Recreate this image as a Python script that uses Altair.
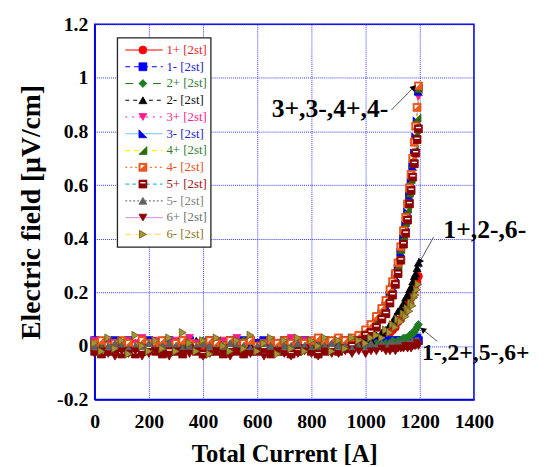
import altair as alt
import pandas as pd

# ---------------- data ----------------
CURRENT = [0, 25, 50, 75, 100, 125, 150, 175, 200, 225,
           250, 275, 300, 325, 350, 375, 400, 425, 450, 475,
           500, 525, 550, 575, 600, 625, 650, 675, 700, 725,
           750, 775, 800, 825, 850, 875, 900, 925, 950,
           975, 1000, 1020, 1040, 1060, 1075, 1090, 1100, 1110, 1120,
           1130, 1140, 1148, 1155, 1162, 1168, 1174, 1180, 1185, 1190, 1195]

SERIES = ["1+", "1-", "2+", "2-", "3+", "3-", "4+", "4-", "5+", "5-", "6+", "6-"]

E_1P = [0.01, 0.00, 0.02, -0.01, 0.01, 0.00, -0.01, 0.02, 0.01, 0.00,
        0.01, -0.01, 0.00, 0.02, 0.01, -0.01, 0.00, 0.01, 0.02, 0.00,
        -0.01, 0.01, 0.00, 0.02, 0.01, 0.00, -0.01, 0.01, 0.02, 0.00,
        0.01, -0.01, 0.00, 0.01, 0.02, 0.00, 0.01, 0.00, 0.01,
        0.01, 0.01, 0.02, 0.02, 0.03, 0.04, 0.05, 0.06, 0.07, 0.09,
        0.10, 0.12, 0.13, 0.15, 0.16, 0.18, 0.19, 0.21, 0.23, 0.24, 0.26]
E_1M = [0.02, 0.01, 0.00, 0.02, 0.01, 0.02, 0.00, 0.01, 0.02, 0.01,
        0.00, 0.02, 0.01, 0.01, 0.02, 0.00, 0.01, 0.02, 0.01, 0.00,
        0.02, 0.01, 0.02, 0.00, 0.01, 0.02, 0.01, 0.00, 0.02, 0.01,
        0.01, 0.02, 0.00, 0.01, 0.02, 0.01, 0.00, 0.02, 0.01,
        0.01, 0.02, 0.01, 0.02, 0.01, 0.02, 0.01, 0.02, 0.02, 0.01,
        0.02, 0.02, 0.01, 0.02, 0.02, 0.02, 0.01, 0.02, 0.02, 0.03, 0.02]
E_2P = [0.00, 0.01, -0.01, 0.01, 0.00, 0.02, 0.01, -0.01, 0.00, 0.01,
        0.02, 0.00, -0.01, 0.01, 0.00, 0.01, 0.02, 0.00, 0.01, -0.01,
        0.00, 0.01, 0.02, 0.01, 0.00, -0.01, 0.01, 0.00, 0.02, 0.01,
        0.00, 0.01, -0.01, 0.00, 0.01, 0.02, 0.00, 0.01, 0.00,
        0.01, 0.00, 0.01, 0.01, 0.00, 0.01, 0.01, 0.02, 0.01, 0.02,
        0.02, 0.03, 0.03, 0.03, 0.04, 0.04, 0.05, 0.05, 0.06, 0.07, 0.08]
E_2M = [0.01, -0.01, 0.00, 0.01, 0.02, 0.00, -0.01, 0.01, 0.00, 0.02,
        0.01, 0.00, 0.01, -0.01, 0.00, 0.02, 0.01, 0.00, -0.01, 0.01,
        0.02, 0.00, 0.01, 0.00, -0.01, 0.01, 0.02, 0.00, 0.01, 0.00,
        -0.01, 0.01, 0.02, 0.00, 0.01, -0.01, 0.00, 0.01, 0.02,
        0.01, 0.02, 0.02, 0.04, 0.05, 0.06, 0.08, 0.09, 0.11, 0.13,
        0.14, 0.16, 0.18, 0.19, 0.21, 0.22, 0.24, 0.26, 0.27, 0.29, 0.31]
E_3P = [0.02, 0.01, 0.02, 0.00, 0.01, 0.02, 0.01, 0.03, 0.01, 0.02,
        0.00, 0.01, 0.02, 0.01, 0.03, 0.01, 0.00, 0.02, 0.01, 0.02,
        0.01, 0.03, 0.01, 0.02, 0.00, 0.01, 0.02, 0.01, 0.02, 0.03,
        0.01, 0.02, 0.00, 0.01, 0.02, 0.01, 0.02, 0.01, 0.02,
        0.02, 0.04, 0.05, 0.08, 0.11, 0.14, 0.18, 0.21, 0.25, 0.28,
        0.34, 0.39, 0.44, 0.49, 0.55, 0.60, 0.66, 0.71, 0.77, 0.83, 0.93]
E_3M = [0.01, 0.00, 0.01, 0.02, 0.00, 0.01, -0.01, 0.01, 0.02, 0.00,
        0.01, 0.02, 0.00, 0.01, -0.01, 0.00, 0.01, 0.02, 0.00, 0.01,
        0.00, 0.02, 0.01, 0.00, 0.01, 0.02, 0.00, -0.01, 0.01, 0.02,
        0.00, 0.01, 0.02, 0.01, 0.00, 0.01, 0.02, 0.00, 0.01,
        0.02, 0.04, 0.06, 0.09, 0.12, 0.15, 0.19, 0.22, 0.26, 0.29,
        0.35, 0.40, 0.45, 0.50, 0.56, 0.61, 0.67, 0.72, 0.78, 0.84, 0.95]
E_4P = [0.00, 0.01, 0.00, -0.01, 0.01, 0.02, 0.00, 0.01, -0.01, 0.00,
        0.01, 0.00, 0.02, 0.01, 0.00, -0.01, 0.01, 0.00, 0.02, 0.01,
        -0.01, 0.00, 0.01, 0.02, 0.00, 0.01, 0.00, 0.01, -0.01, 0.00,
        0.02, 0.01, 0.00, 0.01, 0.00, 0.02, 0.01, 0.00, 0.01,
        0.03, 0.05, 0.07, 0.10, 0.13, 0.16, 0.20, 0.23, 0.27, 0.30,
        0.36, 0.41, 0.46, 0.51, 0.57, 0.62, 0.68, 0.73, 0.79, 0.85, 0.96]
E_4M = [0.01, 0.02, 0.00, 0.01, 0.02, 0.01, 0.00, 0.02, 0.01, 0.01,
        0.02, 0.00, 0.01, 0.02, 0.01, 0.00, 0.01, 0.02, 0.01, 0.00,
        0.02, 0.01, 0.01, 0.02, 0.00, 0.01, 0.02, 0.01, 0.02, 0.01,
        0.02, 0.01, 0.02, 0.03, 0.02, 0.02, 0.03, 0.02, 0.03,
        0.04, 0.06, 0.08, 0.11, 0.14, 0.17, 0.21, 0.24, 0.27, 0.31,
        0.37, 0.43, 0.48, 0.53, 0.59, 0.64, 0.70, 0.76, 0.82, 0.89, 0.97]
E_5P = [-0.02, -0.03, -0.02, -0.01, -0.03, -0.02, -0.03, -0.02, -0.01, -0.02,
        -0.03, -0.02, -0.02, -0.03, -0.01, -0.02, -0.03, -0.02, -0.02, -0.03,
        -0.01, -0.02, -0.03, -0.02, -0.02, -0.01, -0.03, -0.02, -0.02, -0.03,
        -0.02, -0.01, -0.02, -0.03, -0.02, -0.01, -0.02, -0.01, 0.00,
        0.02, 0.04, 0.05, 0.07, 0.10, 0.12, 0.16, 0.19, 0.23, 0.27,
        0.32, 0.38, 0.42, 0.47, 0.53, 0.58, 0.63, 0.68, 0.72, 0.77, 0.81]
E_5M = [0.00, -0.01, 0.00, 0.01, 0.00, -0.01, 0.00, 0.00, 0.01, -0.01,
        0.00, 0.01, 0.00, -0.01, 0.00, 0.00, 0.01, 0.00, -0.01, 0.00,
        0.01, 0.00, 0.00, -0.01, 0.00, 0.01, 0.00, -0.01, 0.00, 0.00,
        0.01, 0.00, -0.01, 0.00, 0.00, 0.01, 0.00, 0.00, -0.01,
        0.00, 0.00, 0.01, 0.00, 0.01, 0.00, 0.01, 0.01, 0.00, 0.01,
        0.01, 0.01, 0.00, 0.01, 0.01, 0.01, 0.02, 0.01, 0.02, 0.02, 0.02]
E_6P = [-0.03, -0.02, -0.03, -0.04, -0.02, -0.03, -0.02, -0.04, -0.03, -0.02,
        -0.03, -0.04, -0.02, -0.03, -0.03, -0.02, -0.04, -0.03, -0.02, -0.03,
        -0.04, -0.02, -0.03, -0.03, -0.02, -0.04, -0.03, -0.02, -0.03, -0.04,
        -0.03, -0.02, -0.03, -0.04, -0.02, -0.03, -0.03, -0.02, -0.03,
        -0.02, -0.03, -0.02, -0.02, -0.01, -0.02, -0.02, -0.01, -0.02, -0.01,
        -0.01, -0.01, 0.00, -0.01, 0.00, -0.01, 0.00, 0.00, 0.00, 0.01, 0.00]
E_6M = [0.01, -0.02, 0.03, -0.01, 0.02, -0.03, 0.04, 0.00, -0.02, 0.02,
        -0.01, 0.03, -0.02, 0.05, 0.01, -0.02, 0.02, -0.03, 0.03, 0.00,
        -0.02, 0.02, -0.01, 0.04, -0.02, 0.01, 0.03, -0.03, 0.02, -0.01,
        0.03, -0.02, 0.02, 0.00, 0.03, -0.02, 0.02, -0.01, 0.03,
        0.02, 0.01, 0.03, 0.04, 0.03, 0.06, 0.05, 0.08, 0.07, 0.10,
        0.09, 0.12, 0.11, 0.14, 0.13, 0.16, 0.15, 0.18, 0.19, 0.21, 0.23]

VALUES = [E_1P, E_1M, E_2P, E_2M, E_3P, E_3M, E_4P, E_4M, E_5P, E_5M, E_6P, E_6M]

X_TICKS = [0, 200, 400, 600, 800, 1000, 1200, 1400]
Y_TICKS = [-0.2, 0, 0.2, 0.4, 0.6, 0.8, 1, 1.2]

ANNOT_TEXT = ["3+,3-,4+,4-", "1+,2-,6-", "1-,2+,5-,6+"]
ANNOT_X = [1084, 1287, 1208]
ANNOT_Y = [0.884, 0.432, -0.027]
ANNOT_ALIGN = ["right", "left", "left"]
ANNOT_SIZE = [26, 26, 24]
ARROW_X = [1095, 1251, 1265]
ARROW_Y = [0.880, 0.406, 0.017]
ARROW_X2 = [1178, 1200, 1211]
ARROW_Y2 = [0.965, 0.314, 0.061]
ARROW_ANGLE = [45, 209, 309]

# ---------------- styles ----------------
TRI_SW = "M-1,-1L1,1L-1,1Z"
TRI_SE = "M1,-1L1,1L-1,1Z"
STYLE = {
    "1+": dict(shape="circle", fill="#ff0000", stroke="#ff0000", line="#ff0000", dash=[1, 0], text="#e8202a"),
    "1-": dict(shape="square", fill="#0000ff", stroke="#0000ff", line="#0000ff", dash=[5, 4], text="#2020d0"),
    "2+": dict(shape="diamond", fill="#1f7a1f", stroke="#1f7a1f", line="#1f7a1f", dash=[8, 6], text="#2e7d32"),
    "2-": dict(shape="triangle-up", fill="#000000", stroke="#000000", line="#000000", dash=[4, 4], text="#111111"),
    "3+": dict(shape="triangle-down", fill="#ff1a8c", stroke="#ff1a8c", line="#ff1a8c", dash=[2, 5], text="#ff1a8c"),
    "3-": dict(shape=TRI_SW, fill="#0000e0", stroke="#0000e0", line="#6ec8f8", dash=[1, 0], text="#2020d0"),
    "4+": dict(shape=TRI_SE, fill="#2a6a12", stroke="#2a6a12", line="#ffff00", dash=[5, 4], text="#2e7d32"),
    "4-": dict(shape="square", fill="#ef5a1e", stroke="#e04a10", line="#ff7a30", dash=[2, 3], text="#e8501a"),
    "5+": dict(shape="square", fill="#8b0000", stroke="#8b0000", line="#40b8e8", dash=[4, 3], text="#a01010"),
    "5-": dict(shape="triangle-up", fill="#606060", stroke="#606060", line="#808080", dash=[2, 2], text="#808080"),
    "6+": dict(shape="triangle-down", fill="#8b0000", stroke="#8b0000", line="#e0a0e0", dash=[1, 0], text="#707070"),
    "6-": dict(shape="triangle-right", fill="#a89438", stroke="#6b5a12", line="#ffe070", dash=[6, 4], text="#8b7520"),
}
OVERLAY = {
    "4-": "M-0.6,-0.6L0.45,-0.6L-0.6,0.45Z",
    "5+": "M-0.65,-0.5L0.65,-0.5L0.65,-0.15L-0.65,-0.15Z",
}

FONT = "Liberation Serif"
AXIS_BLUE = "#0000dd"
GRID_BLUE = "#3a3aff"

xs = alt.Scale(domain=[0, 1400], nice=False, zero=False)
ys = alt.Scale(domain=[-0.2, 1.2], nice=False, zero=False)

x_axis = alt.Axis(values=X_TICKS, title="Total Current [A]", grid=True,
                  gridColor=GRID_BLUE, gridDash=[1, 1], gridWidth=1,
                  domainColor=AXIS_BLUE, domainWidth=1.5, ticks=False,
                  labelExpr="toString(datum.value)",
                  labelFont=FONT, labelFontWeight="bold", labelFontSize=20,
                  labelColor="black", labelPadding=12, labelFlush=False,
                  titleFont=FONT, titleFontWeight="bold", titleFontSize=25,
                  titleColor="black", titlePadding=11)
y_axis = alt.Axis(values=Y_TICKS, title="Electric field [µV/cm]", grid=True,
                  gridColor=GRID_BLUE, gridDash=[1, 1], gridWidth=1,
                  domainColor=AXIS_BLUE, domainWidth=1.5, ticks=False,
                  labelExpr="toString(datum.value)",
                  labelFont=FONT, labelFontWeight="bold", labelFontSize=20,
                  labelColor="black", labelPadding=7, labelFlush=False,
                  titleFont=FONT, titleFontWeight="bold", titleFontSize=28,
                  titleColor="black", titlePadding=11)


def X(field="current"):
    return alt.X(f"{field}:Q", scale=xs, axis=x_axis)


def Y(field="efield"):
    return alt.Y(f"{field}:Q", scale=ys, axis=y_axis)


layers = []
frames = {}
for name, vals in zip(SERIES, VALUES):
    frames[name] = pd.DataFrame({"current": CURRENT, "efield": vals})

# lines underneath
for name in SERIES:
    st = STYLE[name]
    layers.append(
        alt.Chart(frames[name]).mark_line(color=st["line"], strokeWidth=1, strokeDash=st["dash"])
        .encode(x=X(), y=Y())
    )

# markers in series order
for name in SERIES:
    st = STYLE[name]
    layers.append(
        alt.Chart(frames[name]).mark_point(shape=st["shape"], filled=True, fill=st["fill"],
                                           stroke=st["stroke"], strokeWidth=0.8, size=64, opacity=1)
        .encode(x=X(), y=Y())
    )
    if name in OVERLAY:
        layers.append(
            alt.Chart(frames[name]).mark_point(shape=OVERLAY[name], filled=True, fill="white",
                                               strokeWidth=0, size=64, opacity=1)
            .encode(x=X(), y=Y())
        )

# ---------------- legend (drawn inside the plot) ----------------
LEG_TOP, LEG_STEP = 1.104, 0.0625
leg = pd.DataFrame({
    "series": SERIES,
    "label": [f"{s} [2st]" for s in SERIES],
    "y": [LEG_TOP - i * LEG_STEP for i in range(len(SERIES))],
})
box = pd.DataFrame({"x": [84], "x2": [429], "y": [1.149], "y2": [0.369]})
layers.append(
    alt.Chart(box).mark_rect(fill="white", stroke="#222222", strokeWidth=1.3)
    .encode(x=X("x"), x2="x2:Q", y=Y("y"), y2="y2:Q")
)
for i, name in enumerate(SERIES):
    st = STYLE[name]
    row = leg.iloc[[i]].assign(x=113, x2=251, xm=178, xt=265)
    layers.append(
        alt.Chart(row).mark_rule(color=st["line"], strokeWidth=1.2, strokeDash=st["dash"])
        .encode(x=X("x"), x2="x2:Q", y=Y("y"))
    )
    layers.append(
        alt.Chart(row).mark_point(shape=st["shape"], filled=True, fill=st["fill"],
                                  stroke=st["stroke"], strokeWidth=0.8, size=64, opacity=1)
        .encode(x=X("xm"), y=Y("y"))
    )
    if name in OVERLAY:
        layers.append(
            alt.Chart(row).mark_point(shape=OVERLAY[name], filled=True, fill="white",
                                      strokeWidth=0, size=64, opacity=1)
            .encode(x=X("xm"), y=Y("y"))
        )
    layers.append(
        alt.Chart(row).mark_text(align="left", baseline="middle", font=FONT, fontSize=13,
                                 color=st["text"])
        .encode(x=X("xt"), y=Y("y"), text="label:N")
    )

# ---------------- annotations ----------------
ann = pd.DataFrame({"text": ANNOT_TEXT, "x": ANNOT_X, "y": ANNOT_Y,
                    "align": ANNOT_ALIGN, "size": ANNOT_SIZE})
arr = pd.DataFrame({"x": ARROW_X, "y": ARROW_Y, "x2": ARROW_X2, "y2": ARROW_Y2, "angle": ARROW_ANGLE})
layers.append(
    alt.Chart(arr).mark_rule(color="#555555", strokeWidth=1)
    .encode(x=X("x"), y=Y("y"), x2="x2:Q", y2="y2:Q")
)
layers.append(
    alt.Chart(arr).mark_point(shape="triangle-up", filled=True, color="black", size=45, opacity=1)
    .encode(x=X("x2"), y=Y("y2"), angle=alt.Angle("angle:Q", scale=None))
)
for a in ["right", "left"]:
    layers.append(
        alt.Chart(ann[ann["align"] == a]).mark_text(align=a, baseline="middle", font=FONT,
                                                    fontWeight="bold", color="black")
        .encode(x=X("x"), y=Y("y"), text="text:N", size=alt.Size("size:Q", scale=None))
    )

chart = alt.layer(*layers).properties(
    width=385, height=381,
    autosize=alt.AutoSizeParams(type="none"),
    padding={"left": 88, "top": 13, "right": 63, "bottom": 70},
).configure_view(stroke=AXIS_BLUE, strokeWidth=1.5)

chart.save("out.html", embed_options={"renderer": "svg", "actions": False})
